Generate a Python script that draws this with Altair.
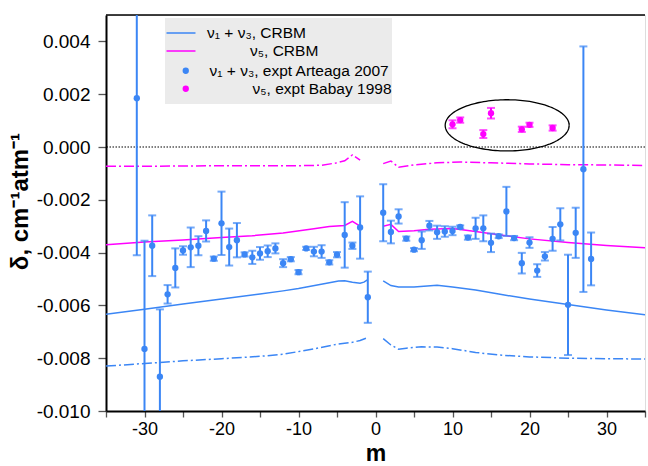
import altair as alt
import pandas as pd
import numpy as np

BLUE = "#3b86f5"
MAGENTA = "#ff00ff"
FONT = "Liberation Sans"

# ---------------- experimental data (delta in 1e-3 cm-1 atm-1) ----------------
art_m = [-31, -30, -29, -28, -27, -26, -25, -24, -23, -22, -21, -20, -19, -18, -17,
         -16, -15, -14, -13, -12, -11, -10, -9, -8, -7, -6, -5, -4, -3, -2, -1,
         1, 2, 3, 4, 5, 6, 7, 8, 9, 10, 11, 12, 13, 14, 15, 16, 17, 18, 19, 20,
         21, 22, 23, 24, 25, 26, 27, 28]
art_d = [1.85, -7.65, -3.74, -8.70, -5.58, -4.58, -3.92, -3.80, -3.74, -3.18, -4.23,
         -2.89, -3.79, -3.53, -4.07, -4.18, -4.03, -3.95, -3.84, -4.40, -4.25, -4.74,
         -3.84, -3.96, -3.96, -4.37, -4.08, -3.33, -3.74, -3.05, -5.69,
         -2.49, -3.22, -2.63, -3.47, -3.89, -3.53, -2.98, -3.23, -3.20, -3.18, -3.03,
         -3.43, -3.08, -3.08, -3.63, -3.38, -2.44, -3.45, -4.40, -3.62, -4.68, -4.14,
         -3.48, -2.93, -5.98, -3.25, -0.84, -4.24]
art_e = [5.95, 4.10, 1.15, 2.55, 0.35, 0.74, 0.16, 0.75, 0.36, 0.40, 0.08,
         1.20, 0.70, 0.65, 0.08, 0.25, 0.24, 0.22, 0.19, 0.15, 0.08, 0.08,
         0.06, 0.18, 0.24, 0.08, 0.10, 1.24, 0.12, 1.18, 0.97,
         1.08, 0.43, 0.27, 0.08, 0.06, 0.33, 0.18, 0.25, 0.20, 0.16, 0.06,
         0.08, 0.40, 0.49, 0.35, 0.07, 0.93, 0.08, 0.39, 0.20, 0.24, 0.16,
         0.45, 0.61, 1.90, 0.95, 4.65, 1.00]

bab_m = [10, 11, 14, 15, 19, 20, 23]
bab_d = [0.86, 1.02, 0.49, 1.28, 0.67, 0.84, 0.72]
bab_e = [0.15, 0.10, 0.15, 0.20, 0.10, 0.08, 0.10]

# ---------------- CRBM curves (two branches: m<0, m>0) ----------------
n13_solid_lm = [-35, -30, -25, -20, -15, -12, -10, -6, -4.8, -4, -3, -2, -1.5, -1]
n13_solid_lv = [-6.34, -6.15, -5.95, -5.76, -5.57, -5.45, -5.36, -5.14, -5.08, -5.07, -5.12, -5.16, -5.12, -5.02]
n13_solid_rm = [1, 2, 3, 5, 8, 10, 13, 16, 20, 25, 30, 35]
n13_solid_rv = [-5.07, -5.25, -5.30, -5.30, -5.24, -5.30, -5.42, -5.57, -5.76, -5.97, -6.17, -6.35]

n13_dd_lm = [-35, -30, -25, -20, -15, -12, -8, -5, -3, -2, -1]
n13_dd_lv = [-8.30, -8.20, -8.10, -8.02, -7.93, -7.85, -7.65, -7.47, -7.40, -7.33, -7.22]
n13_dd_rm = [1, 2, 3, 4, 6, 8, 10, 13, 16, 20, 25, 30, 35]
n13_dd_rv = [-7.26, -7.50, -7.66, -7.62, -7.57, -7.58, -7.64, -7.78, -7.88, -7.95, -8.00, -8.02, -8.03]

n5_solid_lm = [-35, -30, -25, -20, -16, -12, -8, -6, -4, -3, -2]
n5_solid_lv = [-3.70, -3.60, -3.52, -3.43, -3.36, -3.26, -3.10, -3.01, -2.97, -2.82, -3.00]
n5_solid_rm = [1, 2, 3, 5, 7, 10, 13, 16, 20, 25, 30, 35]
n5_solid_rv = [-3.00, -2.93, -3.20, -3.17, -3.12, -3.09, -3.20, -3.32, -3.48, -3.62, -3.73, -3.82]

n5_dd_lm = [-35, -30, -25, -20, -15, -10, -7, -5, -4, -3, -2]
n5_dd_lv = [-0.73, -0.73, -0.72, -0.71, -0.71, -0.71, -0.69, -0.60, -0.52, -0.30, -0.50]
n5_dd_rm = [1, 2, 3, 5, 8, 11, 15, 20, 25, 30, 35]
n5_dd_rv = [-0.63, -0.53, -0.77, -0.68, -0.60, -0.57, -0.60, -0.64, -0.67, -0.68, -0.70]

# ellipse annotation (data units)
ell_cx, ell_cy, ell_a, ell_b = 17.1, 0.00082, 8.05, 0.00097

x_ticks = list(range(-35, 36, 5))
y_ticks = [-0.010, -0.008, -0.006, -0.004, -0.002, 0.000, 0.002, 0.004]

PAD = "\u200b" + "\u00a0" * 10
line_labels = ["ν₁ + ν₃, CRBM", PAD + "ν₅, CRBM"]
exp_labels = ["ν₁ + ν₃, expt Arteaga 2007", PAD + "ν₅, expt Babay 1998"]

# ---------------- build tables ----------------
S = 1e-3


def curve(ms, vs, name, branch):
    return pd.DataFrame({"m": ms, "delta": [v * S for v in vs], "curve": name, "branch": branch})


solid_df = pd.concat([
    curve(n13_solid_lm, n13_solid_lv, line_labels[0], "a"),
    curve(n13_solid_rm, n13_solid_rv, line_labels[0], "b"),
    curve(n5_solid_lm, n5_solid_lv, line_labels[1], "c"),
    curve(n5_solid_rm, n5_solid_rv, line_labels[1], "d"),
])
dd_blue = pd.concat([curve(n13_dd_lm, n13_dd_lv, "b", "a"), curve(n13_dd_rm, n13_dd_rv, "b", "b")])
dd_mag = pd.concat([curve(n5_dd_lm, n5_dd_lv, "m", "a"), curve(n5_dd_rm, n5_dd_rv, "m", "b")])

art = pd.DataFrame({"m": art_m, "delta": np.array(art_d) * S, "err": np.array(art_e) * S, "exp": exp_labels[0]})
bab = pd.DataFrame({"m": bab_m, "delta": np.array(bab_d) * S, "err": np.array(bab_e) * S, "exp": exp_labels[1]})
for d in (art, bab):
    d["lo"] = d["delta"] - d["err"]
    d["hi"] = d["delta"] + d["err"]
pts = pd.concat([art, bab])

# ---------------- scales & axes ----------------
xscale = alt.Scale(domain=[-35, 35], nice=False, zero=False)
yscale = alt.Scale(domain=[-0.010, 0.005], nice=False, zero=False)
xaxis = alt.Axis(values=x_ticks, labelExpr="datum.value % 10 == 0 ? toString(datum.value) : ''",
                 grid=False, labelFont=FONT, labelFontSize=18, labelColor="black", labelPadding=3,
                 tickColor="#555555", tickSize=6, tickWidth=1.3, domainColor="black", domainWidth=2,
                 titleFont=FONT, titleFontSize=23, titleFontWeight="bold", titleColor="black",
                 titlePadding=4, labelFlush=False)
yaxis = alt.Axis(values=y_ticks, labelExpr="(datum.value < -0.0000001 ? '-' : '') + format(abs(datum.value), '.3f')",
                 grid=False, labelFont=FONT, labelFontSize=19, labelColor="black", labelPadding=8,
                 tickColor="#555555", tickSize=8, tickWidth=1.3, domainColor="black", domainWidth=2,
                 titleFont=FONT, titleFontSize=24, titleFontWeight="bold", titleColor="black",
                 titleX=-74, titleY=186, titleAngle=270, titleAlign="center", titleBaseline="bottom",
                 labelFlush=False)
XT, YT = "m", "δ, cm⁻¹atm⁻¹"


def X(f="m"):
    return alt.X(f, type="quantitative", scale=xscale, axis=xaxis, title=XT)


def Y(f="delta"):
    return alt.Y(f, type="quantitative", scale=yscale, axis=yaxis, title=YT)


# ---------------- layers ----------------
legend_bg = alt.Chart(pd.DataFrame({"k": [0]})).mark_rect(color="#ebebeb").encode(
    x=alt.value(59), x2=alt.value(286), y=alt.value(3), y2=alt.value(89))

zero = alt.Chart(pd.DataFrame({"delta": [0.0]})).mark_rule(
    color="black", strokeDash=[1.5, 1.5], strokeWidth=1.2).encode(y=Y())

top_line = alt.Chart(pd.DataFrame({"delta": [0.005]})).mark_rule(
    color="black", strokeWidth=1.5).encode(y=Y())

ellipse = alt.Chart(alt.sequence(0, 6.40, 0.04, as_="t")).transform_calculate(
    m=f"{ell_cx} + {ell_a} * cos(datum.t)",
    delta=f"{ell_cy} + {ell_b} * sin(datum.t)",
).mark_line(color="black", strokeWidth=1.3).encode(x=X(), y=Y(), order=alt.Order("t:Q"))

dash_b = alt.Chart(dd_blue).mark_line(color=BLUE, strokeWidth=1.5, strokeDash=[10, 3, 2, 3], clip=True).encode(
    x=X(), y=Y(), detail="branch:N")
dash_m = alt.Chart(dd_mag).mark_line(color=MAGENTA, strokeWidth=1.5, strokeDash=[10, 3, 2, 3], clip=True).encode(
    x=X(), y=Y(), detail="branch:N")

solid = alt.Chart(solid_df).mark_line(strokeWidth=1.5, clip=True).encode(
    x=X(), y=Y(), detail="branch:N",
    color=alt.Color("curve:N", scale=alt.Scale(domain=line_labels, range=[BLUE, MAGENTA]),
                    legend=alt.Legend(title=None, orient="none", legendX=67, legendY=10, padding=0,
                                      symbolType="M-2,0H2", symbolSize=210, symbolStrokeWidth=1.5,
                                      labelFont=FONT, labelFontSize=15.5, labelColor="black",
                                      labelOffset=18, rowPadding=1, labelLimit=400)))


def errbars(df, color):
    r = alt.Chart(df).mark_rule(color=color, strokeWidth=2, clip=True).encode(x=X(), y=Y("lo"), y2="hi")
    t1 = alt.Chart(df).mark_tick(color=color, orient="horizontal", size=8, thickness=2, clip=True).encode(x=X(), y=Y("lo"))
    t2 = alt.Chart(df).mark_tick(color=color, orient="horizontal", size=8, thickness=2, clip=True).encode(x=X(), y=Y("hi"))
    return [r, t1, t2]


points = alt.Chart(pts).mark_circle(size=40, opacity=1, clip=True).encode(
    x=X(), y=Y(),
    color=alt.Color("exp:N", scale=alt.Scale(domain=exp_labels, range=[BLUE, MAGENTA]),
                    legend=alt.Legend(title=None, orient="none", legendX=72, legendY=48, padding=0,
                                      symbolType="circle", symbolSize=40,
                                      labelFont=FONT, labelFontSize=15.5, labelColor="black",
                                      labelOffset=16, rowPadding=1, labelLimit=400)))

chart = alt.layer(
    legend_bg, zero, top_line, ellipse, dash_b, dash_m, solid,
    *errbars(art, BLUE), *errbars(bab, MAGENTA), points,
).resolve_scale(color="independent").properties(
    width=539, height=396,
    padding={"left": 106, "top": 15, "right": 3, "bottom": 55},
    autosize=alt.AutoSizeParams(type="none"),
).configure_view(stroke=None).configure(background="white")

chart.save("out.html", embed_options={"renderer": "svg", "actions": False})
